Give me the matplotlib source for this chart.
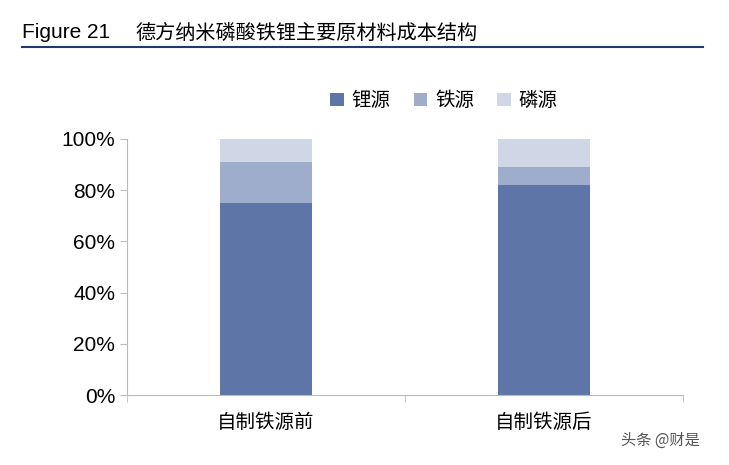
import matplotlib
matplotlib.use("Agg")
import matplotlib.pyplot as plt
import numpy as np

plt.rcParams['font.family'] = ['Noto Sans CJK SC', 'DejaVu Sans']

categories = ["自制铁源前", "自制铁源后"]
li = [75, 82]
fe = [16, 7]
p = [9, 11]
series_names = ["锂源", "铁源", "磷源"]
colors = ["#5e75a8", "#9dadcb", "#cfd6e5"]

fig = plt.figure(figsize=(7.29, 4.65), dpi=100)
ax = fig.add_axes([127/729, 1-395/465, 556/729, 256/465])
x = np.arange(len(categories))
w = 0.33
ax.bar(x, li, w, color=colors[0], label=series_names[0])
ax.bar(x, fe, w, bottom=li, color=colors[1], label=series_names[1])
ax.bar(x, p, w, bottom=np.array(li)+np.array(fe), color=colors[2], label=series_names[2])
ax.set_xlim(-0.5, 1.5)
ax.set_ylim(0, 100)
ax.set_yticks(range(0, 101, 20))
ax.set_yticklabels([f"{v}%" for v in range(0, 101, 20)], fontsize=15, family=['Liberation Sans', 'DejaVu Sans'])
ax.set_xticks(x)
ax.set_xticklabels(categories, fontsize=14)
ax.tick_params(axis='x', length=0, pad=12)
ax.set_xticks([-0.5, 0.5, 1.5], minor=True)
ax.tick_params(axis='x', which='minor', length=5, color='#bbbbbb')
ax.tick_params(axis='y', length=5, color='#bbbbbb')
for s in ['top', 'right']:
    ax.spines[s].set_visible(False)
for s in ['left', 'bottom']:
    ax.spines[s].set_color('#bbbbbb')
ax.legend(loc='lower center', bbox_to_anchor=(0.57, 1.04), ncol=3, frameon=False,
          fontsize=14, handlelength=0.7, handleheight=0.7, columnspacing=1.2, handletextpad=0.4)

fig.text(22/729, 1-33/465, "Figure 21", fontsize=15, family=['Liberation Sans'], va='center')
fig.text(135/729, 1-33/465, "德方纳米磷酸铁锂主要原材料成本结构", fontsize=14.5, va='center')
fig.add_artist(plt.Line2D([22/729, 703/729], [1-47/465, 1-47/465], color='#1f3a6e', lw=1.5))
fig.text(700/729, 1-440/465, "头条 @财是", fontsize=11, color='#555555', ha='right', va='center')
fig.savefig("out.png")
